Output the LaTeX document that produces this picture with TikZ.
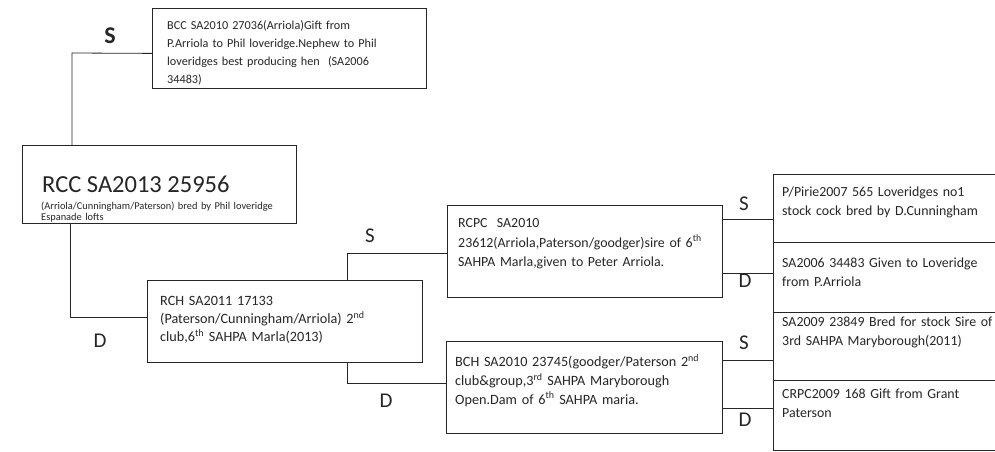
\documentclass[tikz,border=0pt]{standalone}
\usepackage{fontspec}
\setmainfont{Carlito}
\definecolor{ink}{HTML}{262626}
\newcommand\firstln{\rule{0pt}{1em}}
\begin{document}
\begin{tikzpicture}[x=1pt,y=-1pt,
  box/.style={draw=ink, line width=0.8pt, inner sep=0pt, anchor=north west},
  conn/.style={draw=ink, line width=0.8pt},
  txt/.style={anchor=north west, inner sep=0pt, align=left, text=ink, text width=#1},
  txt/.default=300pt,
  lab/.style={font=\fontsize{21}{21}\selectfont, text=ink, inner sep=0pt}]
\useasboundingbox[fill=white] (0,0) rectangle (995,452);

% boxes
\node[box, minimum width=274pt, minimum height=80pt] (bcc) at (152,8) {};
\node[box, minimum width=274pt, minimum height=78pt] (rcc) at (22,145) {};
\node[box, minimum width=275pt, minimum height=82pt] (rch) at (147,280) {};
\node[box, minimum width=275pt, minimum height=92pt] (rcpc) at (447,205) {};
\node[box, minimum width=276pt, minimum height=92pt] (bch) at (446,341) {};
\node[box, minimum width=240pt, minimum height=68pt] (r1) at (773,174) {};
\node[box, minimum width=240pt, minimum height=70pt] (r2) at (773,242) {};
\node[box, minimum width=240pt, minimum height=68pt] (r3) at (773,312) {};
\node[box, minimum width=240pt, minimum height=70pt] (r4) at (773,380) {};

% texts (node top = first baseline - font size)
\node[txt, font=\fontsize{12.2}{18.1}\selectfont] (tbcc) at (167,17.1)
  {\firstln BCC SA2010 27036(Arriola)Gift from\\P.Arriola to Phil loveridge.Nephew to Phil\\loveridges best producing hen\ \ (SA2006\\34483)};
\node[anchor=base west, inner sep=0pt, text=ink, font=\fontsize{24.5}{24.5}\selectfont] (trcc) at (42,192) {RCC SA2013 25956};
\node[txt, font=\fontsize{10.4}{11}\selectfont] (trcc2) at (41,198.6)
  {\firstln(Arriola/Cunningham/Paterson) bred by Phil loveridge\\Espanade lofts};
\node[txt, font=\fontsize{14.2}{18}\selectfont] (trch) at (160,291.5)
  {\firstln RCH SA2011 17133\\(Paterson/Cunningham/Arriola) 2\textsuperscript{nd}\\club,6\textsuperscript{th} SAHPA Marla(2013)};
\node[txt, font=\fontsize{13.9}{19.2}\selectfont] (trcpc) at (458,213.8)
  {\firstln RCPC\ \ SA2010\\23612(Arriola,Paterson/goodger)sire of 6\textsuperscript{th}\\SAHPA Marla,given to Peter Arriola.};
\node[txt, font=\fontsize{14.2}{18.7}\selectfont] (tbch) at (455,352.4)
  {\firstln BCH SA2010 23745(goodger/Paterson 2\textsuperscript{nd}\\club\&group,3\textsuperscript{rd} SAHPA Maryborough\\Open.Dam of 6\textsuperscript{th} SAHPA maria.};
\node[txt=225pt, font=\fontsize{13.9}{18.7}\selectfont] (tr1) at (782,182.8)
  {\firstln P/Pirie2007 565 Loveridges no1\\stock cock bred by D.Cunningham};
\node[txt=225pt, font=\fontsize{13.9}{18.7}\selectfont] (tr2) at (782,253.3)
  {\firstln SA2006 34483 Given to Loveridge\\from P.Arriola};
\node[txt=225pt, font=\fontsize{13.9}{18.7}\selectfont] (tr3) at (782,312.8)
  {\firstln SA2009 23849 Bred for stock Sire of\\3rd SAHPA Maryborough(2011)};
\node[txt=225pt, font=\fontsize{13.9}{18.7}\selectfont] (tr4) at (782,384.3)
  {\firstln CRPC2009 168 Gift from Grant\\Paterson};

% elbow and attach coordinates
\coordinate (e1) at (72,53);
\coordinate (e2) at (70,317);
\coordinate (e3) at (347,253);
\coordinate (e4) at (347,383);
\coordinate (p1) at ([yshift=32pt]rcpc.east);
\coordinate (p2) at ([yshift=-22pt]rcpc.east);
\coordinate (p3) at ([yshift=27pt]bch.east);
\coordinate (p4) at ([yshift=-21pt]bch.east);

% connectors
\draw[conn] ([yshift=-5pt]bcc.west) -- (e1) -- (e1 |- rcc.north);
\draw[conn] (rcc.south -| e2) -- (e2) -- (e2 -| rch.west);
\draw[conn] (rch.north -| e3) -- (e3) -- (rcpc.west |- e3);
\draw[conn] (rch.south -| e4) -- (e4) -- (bch.west |- e4);
\draw[conn] (p1) -- (p1 -| r1.west);
\draw[conn] (p2) -- (p2 -| r2.west);
\draw[conn] (p3) -- (p3 -| r3.west);
\draw[conn] (p4) -- (p4 -| r4.west);

% labels
\node[lab, font=\fontsize{24}{24}\selectfont] (ls1) at (110,36) {\textbf{S}};
\node[lab] (ld1) at (100,341) {D};
\node[lab] (ls2) at (370,236) {S};
\node[lab] (ld2) at (386,401) {D};
\node[lab] (ls3) at (744,204) {S};
\node[lab] (ld3) at (745,281) {D};
\node[lab] (ls4) at (744,343) {S};
\node[lab] (ld4) at (745,420) {D};
\end{tikzpicture}
\end{document}
